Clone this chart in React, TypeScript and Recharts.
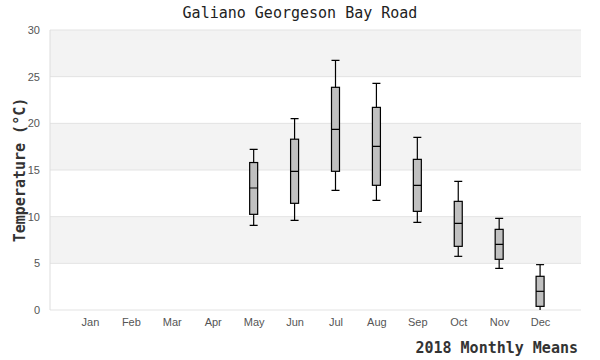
import React from "react";
import {
  ComposedChart,
  Bar,
  XAxis,
  YAxis,
  CartesianGrid,
} from "recharts";

const months = ["Jan", "Feb", "Mar", "Apr", "May", "Jun", "Jul", "Aug", "Sep", "Oct", "Nov", "Dec"];
const whiskerLow = [null, null, null, null, 9.07, 9.61, 12.82, 11.75, 9.39, 5.75, 4.46, -0.14];
const q1 = [null, null, null, null, 10.25, 11.43, 14.86, 13.36, 10.57, 6.82, 5.43, 0.39];
const medians = [null, null, null, null, 13.07, 14.86, 19.36, 17.54, 13.36, 9.29, 7.04, 2.0];
const q3 = [null, null, null, null, 15.8, 18.3, 23.86, 21.71, 16.14, 11.64, 8.64, 3.61];
const whiskerHigh = [null, null, null, null, 17.2, 20.5, 26.75, 24.29, 18.5, 13.79, 9.82, 4.86];
const yTicks = [0, 5, 10, 15, 20, 25, 30];

const data = months.map((m, i) => ({
  month: m,
  low: whiskerLow[i],
  q1: q1[i],
  median: medians[i],
  q3: q3[i],
  high: whiskerHigh[i],
  range: whiskerLow[i] == null ? null : [whiskerLow[i], whiskerHigh[i]],
}));

const mono = "'DejaVu Sans Mono', monospace";
const sans = "'Liberation Sans', Arial, sans-serif";

function BoxShape(props: any) {
  const { x, y, width, height, payload } = props;
  if (payload == null || payload.low == null || !height) return null;
  const { low, high } = payload;
  const k = height / (high - low);
  const toY = (v: number) => y + (high - v) * k;
  const cx = x + width / 2;
  const yQ1 = toY(payload.q1);
  const yQ3 = toY(payload.q3);
  const yMed = toY(payload.median);
  const yLow = y + height;
  return (
    <g stroke="#000" strokeWidth={1.2}>
      <line x1={cx} x2={cx} y1={y} y2={yQ3} />
      <line x1={cx} x2={cx} y1={yQ1} y2={yLow} />
      <line x1={x} x2={x + width} y1={y} y2={y} />
      <line x1={x} x2={x + width} y1={yLow} y2={yLow} />
      <rect x={x} y={yQ3} width={width} height={yQ1 - yQ3} fill="#c0c0c0" />
      <line x1={x} x2={x + width} y1={yMed} y2={yMed} />
    </g>
  );
}

export default function App() {
  return (
    <div style={{ position: "absolute", left: 0, top: 0, width: 600, height: 360, background: "#fff" }}>
      <div
        style={{
          position: "absolute",
          left: 0,
          top: 4,
          width: 600,
          textAlign: "center",
          fontFamily: mono,
          fontSize: 15,
          color: "#222",
        }}
      >
        Galiano Georgeson Bay Road
      </div>
      <ComposedChart
        width={600}
        height={360}
        data={data}
        margin={{ top: 30, right: 19, left: 0, bottom: 0 }}
      >
        <CartesianGrid
          vertical={false}
          stroke="#e3e3e3"
          horizontalFill={["#f3f3f3", "#ffffff"]}
        />
        <XAxis
          dataKey="month"
          height={50}
          padding={{ left: 20, right: 20 }}
          axisLine={false}
          tickLine={false}
          tick={{ fill: "#555", fontSize: 11, fontFamily: sans }}
          interval={0}
          label={{
            value: "2018 Monthly Means",
            position: "insideBottomRight",
            offset: 3,
            dy: -4,
            style: { fontFamily: mono, fontSize: 15, fontWeight: "bold", fill: "#333" },
          }}
        />
        <YAxis
          width={50}
          domain={[0, 30]}
          ticks={yTicks}
          allowDataOverflow
          axisLine={{ stroke: "#dddddd" }}
          tickLine={false}
          tickMargin={4}
          tick={{ fill: "#555", fontSize: 11, fontFamily: sans }}
          label={{
            value: "Temperature (°C)",
            angle: -90,
            position: "insideLeft",
            offset: 20,
            style: { textAnchor: "middle", fontFamily: mono, fontSize: 15, fontWeight: "bold", fill: "#333" },
          }}
        />
        <YAxis
          yAxisId="edge"
          orientation="right"
          width={0}
          domain={[0, 30]}
          tick={false}
          tickLine={false}
          axisLine={{ stroke: "#dddddd" }}
        />
        <Bar dataKey="range" barSize={8} shape={<BoxShape />} isAnimationActive={false} />
      </ComposedChart>
    </div>
  );
}
